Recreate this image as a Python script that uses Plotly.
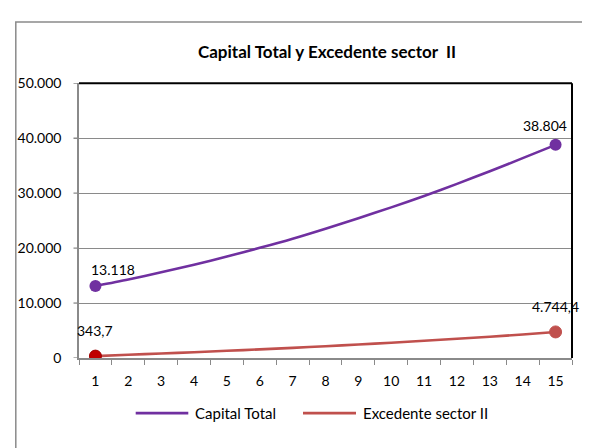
import plotly.graph_objects as go

# ---- data ----
periods = list(range(1, 16))
capital_total = [13118, 14300, 15600, 16980, 18480, 20050, 21720, 23550,
                 25450, 27420, 29500, 31700, 34000, 36380, 38804]
excedente = [343.7, 580, 820, 1060, 1310, 1570, 1850, 2140,
             2450, 2780, 3130, 3490, 3870, 4290, 4744.4]
y_tickvals = [0, 10000, 20000, 30000, 40000, 50000]
y_ticktext = ["0", "10.000", "20.000", "30.000", "40.000", "50.000"]
x_ticktext = [str(p) for p in periods]
capital_labels = ["13.118", "38.804"]
excedente_labels = ["343,7", "4.744,4"]
series_names = ["Capital Total", "Excedente sector II"]
title_text = "Capital Total y Excedente sector \u00a0II"

# ---- style ----
OFF = 8  # page body margin
W, H = 590 - OFF, 448 - OFF
FONT = "Lato"
PURPLE = "#7030A0"
RED = "#C0504D"
DARKRED = "#C00000"
GRID = "#8a8a8a"


def px_x(p):
    return (p - OFF) / W


def px_y(p):
    return 1 - (p - OFF) / H


plot_l, plot_r, plot_t, plot_b = 79, 572, 77, 362.7

fig = go.Figure()

fig.add_trace(go.Scatter(
    x=periods, y=capital_total, mode="lines", name=series_names[0],
    line=dict(color=PURPLE, width=2.6, shape="spline", smoothing=0.8),
    showlegend=False, hoverinfo="skip"))
fig.add_trace(go.Scatter(
    x=periods, y=excedente, mode="lines", name=series_names[1],
    line=dict(color=RED, width=2.6, shape="spline", smoothing=0.8),
    showlegend=False, hoverinfo="skip"))

# endpoint markers
fig.add_trace(go.Scatter(
    x=[periods[0], periods[-1]], y=[capital_total[0], capital_total[-1]],
    mode="markers", marker=dict(color=PURPLE, size=12, line=dict(width=0)),
    showlegend=False, hoverinfo="skip"))
fig.add_trace(go.Scatter(
    x=[periods[0], periods[-1]], y=[excedente[0], excedente[-1]],
    mode="markers",
    marker=dict(color=[DARKRED, RED], size=12,
                line=dict(width=1, color=["#a00000", RED])),
    showlegend=False, hoverinfo="skip"))

annotations = []
lab_font = dict(family=FONT, size=14, color="#000000")
leg_font = dict(family=FONT, size=15, color="#000000")
annotations.append(dict(x=periods[0], y=capital_total[0], text=capital_labels[0],
                        showarrow=False, xanchor="center", yanchor="middle",
                        xshift=17.5, yshift=16, font=lab_font))
annotations.append(dict(x=periods[-1], y=capital_total[-1], text=capital_labels[1],
                        showarrow=False, xanchor="center", yanchor="middle",
                        xshift=-10.5, yshift=19, font=lab_font))
annotations.append(dict(x=periods[0], y=excedente[0], text=excedente_labels[0],
                        showarrow=False, xanchor="center", yanchor="middle",
                        xshift=0, yshift=26, font=lab_font))
annotations.append(dict(x=periods[-1], y=excedente[-1], text=excedente_labels[1],
                        showarrow=False, xanchor="center", yanchor="middle",
                        xshift=-0.5, yshift=25.5, font=lab_font))
annotations.append(dict(xref="paper", yref="paper", x=px_x(326.5), y=px_y(44),
                        text="<b>" + title_text + "</b>", showarrow=False,
                        xanchor="center", yanchor="middle",
                        font=dict(family=FONT, size=17, color="#000000")))
annotations.append(dict(xref="paper", yref="paper", x=px_x(193.3), y=px_y(420),
                        text=series_names[0], showarrow=False,
                        xanchor="left", yanchor="middle", font=leg_font))
annotations.append(dict(xref="paper", yref="paper", x=px_x(361), y=px_y(420),
                        text=series_names[1], showarrow=False,
                        xanchor="left", yanchor="middle", font=leg_font))

shapes = [
    dict(type="rect", xref="paper", yref="paper", x0=px_x(15.8), x1=1.05,
         y0=-0.05, y1=px_y(13.3), line=dict(color="#8a8a8a", width=1.5),
         layer="below"),
    # plot area border: top and right in black
    dict(type="line", xref="paper", yref="paper", x0=px_x(plot_l), x1=px_x(plot_r),
         y0=px_y(plot_t), y1=px_y(plot_t), line=dict(color="#000000", width=2)),
    dict(type="line", xref="paper", yref="paper", x0=px_x(plot_r), x1=px_x(plot_r),
         y0=px_y(plot_b), y1=px_y(plot_t), line=dict(color="#000000", width=2)),
    # legend lines
    dict(type="line", xref="paper", yref="paper", x0=px_x(135.7), x1=px_x(188.3),
         y0=px_y(420), y1=px_y(420), line=dict(color=PURPLE, width=2.6)),
    dict(type="line", xref="paper", yref="paper", x0=px_x(303), x1=px_x(356),
         y0=px_y(420), y1=px_y(420), line=dict(color=RED, width=2.6)),
]
# visible short y-axis tick marks (outside, 5 px)
for v in y_tickvals:
    shapes.append(dict(type="line", xref="paper", yref="y",
                       x0=px_x(plot_l - 5.5), x1=px_x(plot_l), y0=v, y1=v,
                       line=dict(color=GRID, width=1.3)))

fig.update_layout(
    width=W, height=H,
    margin=dict(l=0, r=0, t=0, b=0),
    paper_bgcolor="#ffffff", plot_bgcolor="#ffffff",
    showlegend=False,
    annotations=annotations,
    shapes=shapes,
    xaxis=dict(
        domain=[px_x(plot_l), px_x(plot_r)],
        range=[0.5, 15.5], tickmode="array", tickvals=periods, ticktext=x_ticktext,
        ticks="outside", ticklen=9, tickcolor="rgba(0,0,0,0)",
        showline=True, linecolor=GRID, linewidth=1.5,
        showgrid=False, zeroline=False,
        tickfont=dict(family=FONT, size=14, color="#000000"),
        minor=dict(tickmode="linear", tick0=0.5, dtick=1, ticks="outside",
                   ticklen=5, tickcolor=GRID, tickwidth=1.3, showgrid=False),
    ),
    yaxis=dict(
        domain=[px_y(plot_b), px_y(plot_t)],
        range=[0, 50000], tickmode="array", tickvals=y_tickvals, ticktext=y_ticktext,
        ticks="outside", ticklen=13, tickcolor="rgba(0,0,0,0)",
        showline=True, linecolor=GRID, linewidth=1.5,
        showgrid=True, gridcolor=GRID, gridwidth=1.3, zeroline=False,
        tickfont=dict(family=FONT, size=14, color="#000000"),
    ),
)

fig.write_html("out.html")
